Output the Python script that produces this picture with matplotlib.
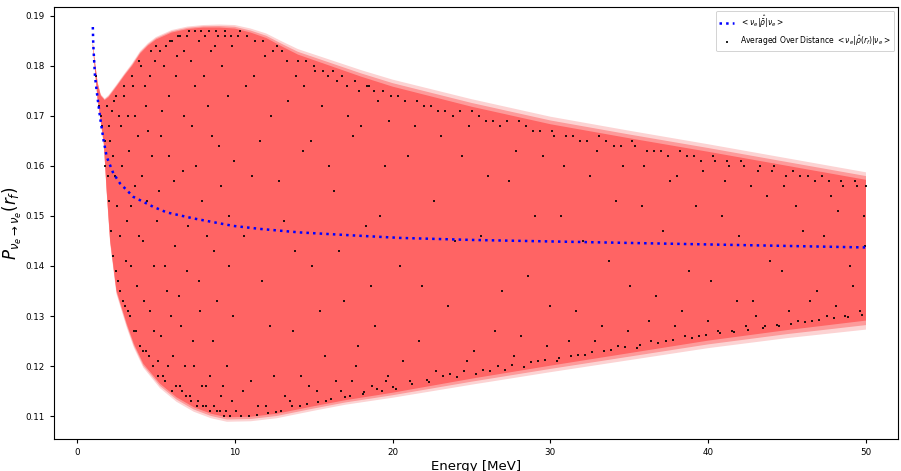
import numpy as np
import matplotlib
matplotlib.use('Agg')
import matplotlib.pyplot as plt

# ============================================================
# DATA
# ============================================================
# mean survival probability (blue dotted curve)
MEAN_E = [1.0, 1.03, 1.14, 1.29, 1.46, 1.67, 1.88, 2.3, 2.72, 3.57, 4.84, 5.68,
          7.37, 9.9, 11.6, 14.1, 17.5, 20.5, 25.0, 30.0, 35.0, 40.0, 45.0, 50.0]
MEAN_P = [0.1877, 0.1841, 0.1778, 0.1738, 0.1697, 0.1653, 0.1618, 0.1585, 0.1565,
          0.1538, 0.1518, 0.1507, 0.1495, 0.1480, 0.1474, 0.1467, 0.1461, 0.1456,
          0.1452, 0.1449, 0.1446, 0.1443, 0.1440, 0.1437]

# upper edge of the oscillation band
UP_E = [1.0, 1.1, 1.3, 1.5, 1.75, 2.0, 2.5, 3.0, 3.5, 4.0, 4.5, 5.0, 6.0, 7.0,
        8.0, 9.0, 10.0, 11.0, 12.0, 13.0, 14.0, 16.0, 18.0, 20.0, 25.0, 30.0,
        35.0, 40.0, 45.0, 50.0]
UP_P = [0.1845, 0.1815, 0.1765, 0.1740, 0.1731, 0.1737, 0.1758, 0.1780, 0.1800,
        0.1824, 0.1840, 0.1852, 0.1866, 0.1873, 0.1876, 0.1876, 0.1874, 0.1866,
        0.1855, 0.1838, 0.1822, 0.1800, 0.1778, 0.1758, 0.1718, 0.1683, 0.1655,
        0.1628, 0.1600, 0.1572]
UP_FADE = [0.0003, 0.0003, 0.0003, 0.0003, 0.0003, 0.0004, 0.0004, 0.0004, 0.0005,
           0.0005, 0.0005, 0.0005, 0.0005, 0.0005, 0.0005, 0.0006, 0.0007, 0.0008,
           0.0009, 0.0010, 0.0011, 0.0012, 0.0013, 0.0014, 0.0015, 0.0015, 0.0015,
           0.0015, 0.0015, 0.0015]

# lower edge of the oscillation band
LO_E = [1.0, 1.3, 1.5, 1.7, 1.88, 2.1, 2.5, 3.15, 3.6, 4.2, 5.26, 6.3, 7.4, 8.5,
        9.5, 11.0, 12.65, 15.0, 17.0, 20.0, 25.0, 30.0, 35.0, 40.0, 45.0, 50.0]
LO_P = [0.1840, 0.1735, 0.1690, 0.1645, 0.1551, 0.1451, 0.1351, 0.1285, 0.1245,
        0.1205, 0.1165, 0.1138, 0.1118, 0.1105, 0.1098, 0.1099, 0.1105, 0.1120,
        0.1132, 0.1147, 0.1175, 0.1201, 0.1226, 0.1251, 0.1272, 0.1291]
LO_FADE = [0.0002, 0.0003, 0.0003, 0.0004, 0.0005, 0.0006, 0.0007, 0.0008, 0.0008,
           0.0008, 0.0009, 0.0009, 0.0009, 0.0009, 0.0009, 0.0009, 0.0009, 0.0009,
           0.0009, 0.0010, 0.0012, 0.0013, 0.0014, 0.0015, 0.0016, 0.0018]

# samples at single distances (black dots), first batch
DOT_E = [1.1, 1.2, 1.4, 1.6, 1.8, 1.9, 2.0, 2.1, 2.2, 2.3, 2.4, 2.5, 2.6, 2.7, 2.8, 2.9,
         3.0, 3.1, 3.2, 3.3, 3.4, 3.5, 3.6, 3.7, 3.8, 3.9, 4.0, 4.1, 4.2, 4.3, 4.4, 4.5,
         4.6, 4.7, 4.8, 4.9,
         5.0, 5.1, 5.2, 5.3, 5.4, 5.5, 5.6, 5.7, 5.8, 5.9, 6.0, 6.1, 6.2, 6.3, 6.4, 6.5,
         6.6, 6.7, 6.8, 6.9, 7.0, 7.1, 7.2, 7.3, 7.4, 7.5, 7.6, 7.7, 7.8, 7.9, 8.0, 8.1,
         8.2, 8.3, 8.4, 8.5, 8.6, 8.7, 8.8, 8.9, 9.0, 9.1, 9.2, 9.3, 9.4, 9.5, 9.6, 9.7,
         9.8, 9.9,
         10.1, 10.3, 10.5, 10.7, 10.9, 11.1, 11.3, 11.5, 11.7, 11.9, 12.1, 12.3, 12.5,
         12.7, 12.9, 13.1, 13.3, 13.5, 13.7, 13.9, 14.1, 14.3, 14.5, 14.7, 14.9, 15.1,
         15.3, 15.5, 15.7, 15.9, 16.1, 16.3, 16.5, 16.7, 16.9, 17.1, 17.3, 17.5, 17.7,
         17.9, 18.1, 18.3, 18.5, 18.7, 18.9, 19.1, 19.3, 19.5, 19.7, 19.9,
         20.2, 20.5, 20.8, 21.1, 21.4, 21.7, 22.0, 22.3, 22.6, 22.9, 23.2, 23.5, 23.8,
         24.1, 24.4, 24.7, 25.0, 25.3, 25.6, 25.9, 26.2, 26.5, 26.8, 27.1, 27.4, 27.7,
         28.0, 28.3, 28.6, 28.9, 29.2, 29.5, 29.8,
         30.1, 30.4, 30.7, 31.0, 31.3, 31.6, 31.9, 32.2, 32.5, 32.8, 33.1, 33.4, 33.7,
         34.0, 34.3, 34.6, 34.9, 35.2, 35.5, 35.8, 36.1, 36.4, 36.7, 37.0, 37.3, 37.6,
         37.9, 38.2, 38.5, 38.8, 39.1, 39.4, 39.7,
         40.0, 40.3, 40.6, 40.9, 41.2, 41.5, 41.8, 42.1, 42.4, 42.7, 43.0, 43.3, 43.6,
         43.9, 44.2, 44.5, 44.8, 45.1, 45.4, 45.7, 46.0, 46.3, 46.6, 46.9, 47.2, 47.5,
         47.8, 48.1, 48.4, 48.7, 49.0, 49.3, 49.6, 49.9, 50.0]
DOT_P = [0.181, 0.178, 0.172, 0.168, 0.160, 0.172, 0.153, 0.165, 0.171, 0.142, 0.158,
         0.174, 0.137, 0.146, 0.168, 0.133, 0.176, 0.141, 0.131, 0.163, 0.152, 0.178,
         0.127, 0.170, 0.136, 0.181, 0.124, 0.158, 0.145, 0.176, 0.123, 0.167, 0.131,
         0.183, 0.120, 0.140,
         0.184, 0.118, 0.155, 0.126, 0.171, 0.180, 0.117, 0.135, 0.162, 0.185, 0.115,
         0.122, 0.144, 0.178, 0.186, 0.116, 0.128, 0.159, 0.183, 0.114, 0.139, 0.187,
         0.113, 0.168, 0.120, 0.176, 0.112, 0.185, 0.131, 0.153, 0.112, 0.186, 0.116,
         0.172, 0.111, 0.183, 0.125, 0.143, 0.187, 0.111, 0.164, 0.114, 0.180, 0.110,
         0.186, 0.120, 0.150, 0.110, 0.184, 0.130,
         0.111, 0.187, 0.115, 0.176, 0.110, 0.158, 0.185, 0.112, 0.137, 0.182, 0.1106,
         0.170, 0.118, 0.184, 0.111, 0.149, 0.181, 0.113, 0.127, 0.178, 0.112, 0.163,
         0.181, 0.116, 0.140, 0.179, 0.1128, 0.172, 0.122, 0.178, 0.1135, 0.155, 0.177,
         0.115, 0.133, 0.176, 0.114, 0.166, 0.120, 0.175, 0.1145, 0.148, 0.176, 0.116,
         0.128, 0.173, 0.115, 0.160, 0.118, 0.174,
         0.1155, 0.140, 0.173, 0.117, 0.168, 0.125, 0.172, 0.1168, 0.153, 0.171, 0.118,
         0.132, 0.170, 0.1178, 0.162, 0.121, 0.171, 0.1184, 0.146, 0.169, 0.119, 0.127,
         0.168, 0.1193, 0.157, 0.122, 0.169, 0.1198, 0.138, 0.167, 0.121, 0.162, 0.124,
         0.167, 0.121, 0.150, 0.166, 0.122, 0.131, 0.165, 0.1222, 0.158, 0.125, 0.166,
         0.123, 0.141, 0.164, 0.124, 0.160, 0.127, 0.165, 0.1236, 0.152, 0.163, 0.125,
         0.134, 0.163, 0.125, 0.157, 0.128, 0.163, 0.126, 0.139, 0.162, 0.126, 0.159,
         0.129, 0.162, 0.127, 0.150, 0.161, 0.127, 0.133, 0.161, 0.128, 0.156, 0.130,
         0.160, 0.128, 0.141, 0.160, 0.128, 0.156, 0.131, 0.159, 0.129, 0.147, 0.158,
         0.129, 0.135, 0.158, 0.130, 0.154, 0.132, 0.157, 0.130, 0.140, 0.157, 0.131,
         0.150, 0.156]

# second batch of single-distance samples
DOT2_E = [1.55, 1.75, 1.95, 2.05, 2.15, 2.25, 2.35, 2.45, 2.55, 2.65, 2.75, 2.85, 2.95,
          3.05, 3.15, 3.25, 3.35, 3.45, 3.55, 3.65, 3.75, 3.85, 3.95, 4.05, 4.15, 4.25,
          4.35, 4.45, 4.55, 4.65, 4.75, 4.85, 4.95,
          5.05, 5.15, 5.25, 5.35, 5.45, 5.55, 5.65, 5.75, 5.85, 5.95, 6.05, 6.15, 6.25,
          6.35, 6.45, 6.55, 6.65, 6.75, 6.85, 6.95, 7.05, 7.15, 7.25, 7.35, 7.45, 7.55,
          7.65, 7.75, 7.85, 7.95, 8.05, 8.15, 8.25, 8.35, 8.45, 8.55, 8.65, 8.75, 8.85,
          8.95, 9.05, 9.15, 9.25, 9.35, 9.45, 9.55, 9.65, 9.75, 9.85, 9.95,
          10.2, 10.4, 10.6, 10.8, 11.0, 11.2, 11.4, 11.6, 11.8, 12.0, 12.2, 12.4, 12.6,
          12.8, 13.0, 13.2, 13.4, 13.6, 13.8, 14.0, 14.2, 14.4, 14.6, 14.8, 15.0, 15.2,
          15.4, 15.6, 15.8, 16.0, 16.2, 16.4, 16.6, 16.8, 17.0, 17.2, 17.4, 17.6, 17.8,
          18.0, 18.2, 18.4, 18.6, 18.8, 19.0, 19.2, 19.4, 19.6, 19.8,
          20.0, 20.35, 20.65, 20.95, 21.25, 21.55, 21.85, 22.15, 22.45, 22.75, 23.05,
          23.35, 23.65, 23.95, 24.25, 24.55, 24.85, 25.15, 25.45, 25.75, 26.05, 26.35,
          26.65, 26.95, 27.25, 27.55, 27.85, 28.15, 28.45, 28.75, 29.05, 29.35, 29.65,
          29.95,
          30.25, 30.55, 30.85, 31.15, 31.45, 31.75, 32.05, 32.35, 32.65, 32.95, 33.25,
          33.55, 33.85, 34.15, 34.45, 34.75, 35.05, 35.35, 35.65, 35.95, 36.25, 36.55,
          36.85, 37.15, 37.45, 37.75, 38.05, 38.35, 38.65, 38.95, 39.25, 39.55, 39.85,
          40.15, 40.45, 40.75, 41.05, 41.35, 41.65, 41.95, 42.25, 42.55, 42.85, 43.15,
          43.45, 43.75, 44.05, 44.35, 44.65, 44.95, 45.25, 45.55, 45.85, 46.15, 46.45,
          46.75, 47.05, 47.35, 47.65, 47.95, 48.25, 48.55, 48.85, 49.15, 49.45, 49.75,
          49.95]
DOT2_P = [0.170, 0.165, 0.158, 0.168, 0.147, 0.162, 0.173, 0.139, 0.152, 0.170, 0.135,
          0.160, 0.174, 0.132, 0.149, 0.170, 0.130, 0.140, 0.176, 0.156, 0.127, 0.166,
          0.146, 0.180, 0.123, 0.133, 0.172, 0.153, 0.122, 0.178, 0.162, 0.127, 0.181,
          0.149, 0.121, 0.183, 0.166, 0.118, 0.140, 0.184, 0.120, 0.174, 0.130, 0.185,
          0.157, 0.116, 0.182, 0.134, 0.186, 0.115, 0.170, 0.120, 0.186, 0.148, 0.114,
          0.181, 0.125, 0.187, 0.160, 0.113, 0.137, 0.187, 0.116, 0.178, 0.112, 0.146,
          0.187, 0.118, 0.166, 0.112, 0.184, 0.133, 0.186, 0.111, 0.156, 0.116, 0.187,
          0.111, 0.174, 0.140, 0.186, 0.113, 0.161,
          0.186, 0.110, 0.146, 0.186, 0.117, 0.178, 0.1103, 0.165, 0.185, 0.112, 0.128,
          0.183, 0.1108, 0.157, 0.183, 0.114, 0.173, 0.112, 0.143, 0.181, 0.118, 0.176,
          0.1125, 0.165, 0.180, 0.115, 0.131, 0.179, 0.113, 0.160, 0.179, 0.117, 0.143,
          0.178, 0.1138, 0.170, 0.117, 0.177, 0.124, 0.168, 0.1148, 0.176, 0.136, 0.175,
          0.1155, 0.150, 0.175, 0.117, 0.169,
          0.1158, 0.174, 0.121, 0.162, 0.1165, 0.173, 0.136, 0.1172, 0.172, 0.119, 0.166,
          0.171, 0.1185, 0.145, 0.171, 0.119, 0.168, 0.123, 0.170, 0.1192, 0.158, 0.169,
          0.120, 0.135, 0.169, 0.1202, 0.163, 0.126, 0.168, 0.1208, 0.150, 0.167, 0.1212,
          0.132,
          0.166, 0.1216, 0.160, 0.125, 0.166, 0.1222, 0.145, 0.165, 0.1228, 0.163, 0.128,
          0.165, 0.1232, 0.153, 0.164, 0.1238, 0.136, 0.164, 0.1242, 0.160, 0.129, 0.163,
          0.1246, 0.147, 0.162, 0.1252, 0.158, 0.131, 0.162, 0.1256, 0.152, 0.161, 0.1262,
          0.137, 0.161, 0.1266, 0.157, 0.160, 0.1268, 0.146, 0.160, 0.1272, 0.133, 0.159,
          0.1276, 0.154, 0.159, 0.1282, 0.139, 0.158, 0.1284, 0.152, 0.158, 0.1288, 0.133,
          0.157, 0.1292, 0.146, 0.157, 0.1296, 0.151, 0.156, 0.1298, 0.136, 0.156, 0.1302,
          0.144]

X_TICKS = [0, 10, 20, 30, 40, 50]
Y_TICKS = [0.11, 0.12, 0.13, 0.14, 0.15, 0.16, 0.17, 0.18, 0.19]

RED = '#ff6464'
RED_MID = '#fd9a9a'
RED_FADE = '#fcd3d3'


def band_polygon(up_e, up_p, lo_e, lo_p):
    xs = np.concatenate([up_e, lo_e[::-1]])
    ys = np.concatenate([up_p, lo_p[::-1]])
    return xs, ys


def main():
    up_e = np.array(UP_E)
    up_p = np.array(UP_P)
    lo_e = np.array(LO_E)
    lo_p = np.array(LO_P)
    up_f = np.array(UP_FADE)
    lo_f = np.array(LO_FADE)

    fig = plt.figure(figsize=(9.01, 4.71), dpi=100)
    ax = fig.add_axes([54 / 901, 1 - 439 / 471, 844 / 901, 432 / 471])

    # faded outer edge, then the solid band
    xs, ys = band_polygon(up_e, up_p + up_f, lo_e, lo_p - lo_f)
    ax.fill(xs, ys, color=RED_FADE, lw=0, zorder=1)
    xs, ys = band_polygon(up_e, up_p + 0.5 * up_f, lo_e, lo_p - 0.5 * lo_f)
    ax.fill(xs, ys, color=RED_MID, lw=0, zorder=1)
    xs, ys = band_polygon(up_e, up_p, lo_e, lo_p)
    ax.fill(xs, ys, color=RED, lw=0, zorder=2)

    ax.plot(MEAN_E, MEAN_P, linestyle=':', color='blue', lw=1.8, zorder=4,
            label=r'$<\nu_e|\hat{\bar{\rho}}|\nu_e>$')
    ax.scatter(DOT_E + DOT2_E, DOT_P + DOT2_P, s=1.6, color='black', marker='s',
               lw=0, alpha=0.85, zorder=3,
               label=r'Averaged Over Distance $<\nu_e|\hat{\rho}(r_f)|\nu_e>$')

    ax.set_xlim(-1.46, 52.03)
    ax.set_ylim(0.10546, 0.1917)
    ax.set_xticks(X_TICKS)
    ax.set_yticks(Y_TICKS)
    ax.set_yticklabels([f'{v:.2f}' for v in Y_TICKS])
    ax.tick_params(labelsize=6.3, length=3)

    ax.set_xlabel('Energy [MeV]', fontsize=9.5, labelpad=2)
    ax.set_ylabel(r'$P_{\nu_e \rightarrow \nu_e}(r_f)$', fontsize=12, labelpad=1)

    leg = ax.legend(loc='upper right', fontsize=5.5, markerscale=1.3, framealpha=1)
    leg.get_frame().set_linewidth(0.6)

    fig.savefig('out.png', dpi=100)
    plt.close(fig)


if __name__ == "__main__":
    main()
